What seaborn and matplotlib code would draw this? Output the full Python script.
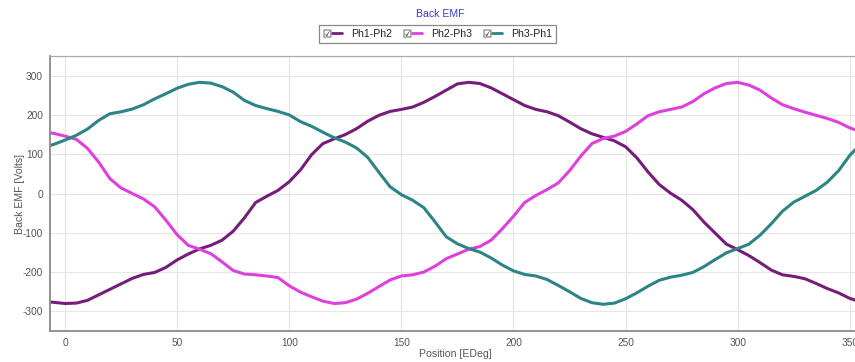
import matplotlib
matplotlib.use("Agg")
import matplotlib.pyplot as plt
from matplotlib.lines import Line2D
from matplotlib.legend_handler import HandlerTuple
import numpy as np
import pandas as pd
import seaborn as sns

# Rotor position in electrical degrees
position = [-7, -5] + list(range(0, 360, 5))

# Line-to-line back EMF samples [V]
ph1_ph2 = [-276, -277,
           -280, -279, -272, -258, -244, -230, -216, -206, -201, -188, -169, -154,
           -141, -132, -119, -96, -62, -23, -7, 8, 30, 60, 99, 127,
           139, 150, 165, 184, 199, 209, 214, 220, 232, 247, 263, 279,
           283, 280, 269, 254, 239, 224, 214, 208, 198, 182, 165, 152,
           143, 134, 119, 91, 55, 23, 1, -17, -41, -73, -101, -129,
           -143, -158, -176, -195, -207, -211, -217, -229, -242, -253, -267, -276]
ph2_ph3 = [155, 153,
           146, 138, 115, 80, 38, 14, 0, -14, -34, -68, -105, -132,
           -142, -153, -174, -196, -205, -207, -210, -214, -235, -251, -263, -274,
           -280, -278, -269, -254, -237, -220, -210, -207, -200, -185, -166, -154,
           -142, -135, -119, -90, -58, -23, -5, 10, 27, 58, 95, 127,
           140, 146, 158, 177, 198, 208, 214, 220, 234, 254, 269, 280,
           283, 276, 263, 243, 226, 216, 207, 199, 191, 181, 167, 157]
ph3_ph1 = [122, 125,
           136, 148, 164, 186, 203, 208, 215, 226, 241, 254, 268, 278,
           283, 281, 272, 258, 237, 224, 216, 209, 200, 183, 171, 156,
           142, 131, 116, 92, 54, 17, -3, -17, -36, -72, -110, -128,
           -140, -149, -164, -182, -197, -206, -210, -219, -234, -250, -267, -278,
           -282, -279, -268, -253, -236, -221, -213, -208, -201, -186, -168, -151,
           -140, -129, -106, -77, -45, -22, -7, 8, 29, 58, 97, 127]

phase_names = ["Ph1-Ph2", "Ph2-Ph3", "Ph3-Ph1"]
phase_colors = ["#761c7a", "#de40de", "#2c8484"]
y_ticks = [-300, -200, -100, 0, 100, 200, 300]
x_ticks = [0, 50, 100, 150, 200, 250, 300, 350]

df = pd.concat([
    pd.DataFrame({"Position": position, "Volts": vals, "Phase": name})
    for name, vals in zip(phase_names, [ph1_ph2, ph2_ph3, ph3_ph1])
], ignore_index=True)

sns.set_style("white")
plt.rcParams["font.family"] = ["Liberation Sans", "DejaVu Sans"]
plt.rcParams["axes.unicode_minus"] = False

fig = plt.figure(figsize=(8.55, 3.62), dpi=100)
# axes box runs slightly past the right edge of the canvas
ax = fig.add_axes([50 / 855, 1 - 331 / 362, (861 - 50) / 855, (331 - 56) / 362])

sns.lineplot(data=df, x="Position", y="Volts", hue="Phase",
             palette=dict(zip(phase_names, phase_colors)),
             linewidth=2.2, legend=False, sort=False, ax=ax)
for ln in ax.get_lines():
    ln.set_solid_joinstyle("round")
    ln.set_solid_capstyle("round")

ax.set_xlim(-6.7, 355)
ax.set_ylim(-350, 350)
ax.set_xticks(x_ticks)
ax.set_yticks(y_ticks)
ax.grid(True, color="#e6e6e6", linewidth=0.8)
ax.set_axisbelow(True)

tick_col = "#555555"
ax.tick_params(axis="both", labelsize=7.3, colors=tick_col, length=3,
               width=0.8, direction="out", pad=2)
for side in ("left", "bottom"):
    ax.spines[side].set_color("#8a8a8a")
    ax.spines[side].set_linewidth(1.3)
ax.spines["top"].set_color("#a8a8a8")
ax.spines["top"].set_linewidth(0.9)
ax.spines["right"].set_visible(False)

ax.set_xlabel("Position [EDeg]", fontsize=7.6, color=tick_col, labelpad=1)
ax.set_ylabel("Back EMF [Volts]", fontsize=7.6, color=tick_col, labelpad=-1.5)

fig.text(440 / 855, 1 - 14 / 362, "Back EMF", ha="center", va="center",
         fontsize=7.6, color="#3c3cc8")

handles = []
for c in phase_colors:
    box = Line2D([], [], linestyle="none", marker="$\u2611$",
                 markersize=5.5, color="#444444", markeredgewidth=0.1)
    seg = Line2D([], [], color=c, linewidth=2.0)
    handles.append((box, seg))

leg = fig.legend(handles, phase_names, loc="center",
                 bbox_to_anchor=(437 / 855, 1 - 34 / 362), ncol=3,
                 fontsize=7.6, handlelength=1.9, handletextpad=0.8,
                 columnspacing=1.0, borderpad=0.35, fancybox=False,
                 framealpha=1, edgecolor="#888888",
                 handler_map={tuple: HandlerTuple(ndivide=None, pad=0)})
leg.get_frame().set_linewidth(0.9)
for t in leg.get_texts():
    t.set_color("#222222")

fig.savefig("out.png", dpi=100)
